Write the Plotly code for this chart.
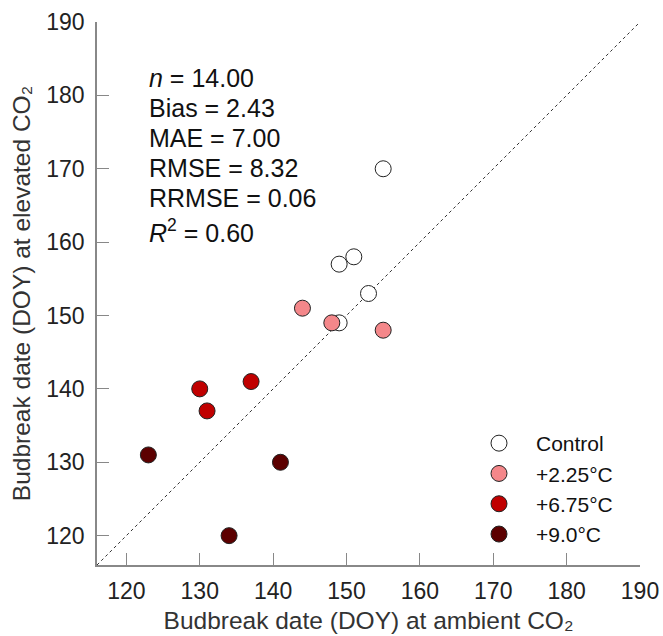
import plotly.graph_objects as go

groups = ["Control", "+2.25°C", "+6.75°C", "+9.0°C"]
ambient = [
    [155, 151, 149, 153, 149],
    [144, 148, 155],
    [130, 137, 131],
    [123, 141, 134],
]
elevated = [
    [170, 158, 157, 153, 149],
    [151, 149, 148],
    [140, 141, 137],
    [131, 130, 120],
]
colors = ["#FFFFFF", "#F4878A", "#C00000", "#5C0000"]
stats = ["<i>n</i> = 14.00", "Bias = 2.43", "MAE = 7.00", "RMSE = 8.32",
         "RRMSE = 0.06", "<i>R</i><sup>2</sup> = 0.60"]
ticks = [120, 130, 140, 150, 160, 170, 180, 190]
axis_range = [116, 190]

FONT = "Liberation Sans, Arial, sans-serif"
fig = go.Figure()

fig.add_trace(go.Scatter(x=axis_range, y=axis_range, mode="lines",
                         line=dict(color="#333333", width=1, dash="3px,3px"),
                         showlegend=False, hoverinfo="skip"))

for i, g in enumerate(groups):
    fig.add_trace(go.Scatter(
        x=ambient[i], y=elevated[i], mode="markers", name=g,
        marker=dict(size=16, color=colors[i], line=dict(color="#222222", width=1)),
    ))

W, H = 663, 636
L, R, T, B = 97, 23, 22, 71
pw = W - L - R
ph = H - T - B

line_y = [78, 108, 138, 168, 198, 231]
for s, py in zip(stats, line_y):
    fig.add_annotation(text=s, xref="paper", yref="paper",
                       x=(147 - L) / pw, y=(H - B - py) / ph,
                       xanchor="left", yanchor="middle", showarrow=False,
                       font=dict(size=25, color="#111111", family=FONT))

axis_common = dict(range=axis_range, tickvals=ticks, ticks="inside", ticklen=12,
                   tickcolor="#888888", showline=True, linecolor="#888888",
                   linewidth=1.5, showgrid=False, zeroline=False, mirror=False,
                   automargin=False,
                   tickfont=dict(size=23, color="#222222", family=FONT))

fig.update_layout(
    width=W, height=H,
    margin=dict(l=L, r=R, t=T, b=B),
    paper_bgcolor="white", plot_bgcolor="white",
    font=dict(family=FONT),
    xaxis=dict(**axis_common, ticklabelstandoff=5,
               title=dict(text="Budbreak date (DOY) at ambient CO₂",
                          font=dict(size=24.5, color="#333333", family=FONT), standoff=9)),
    yaxis=dict(**axis_common, ticklabelstandoff=6,
               title=dict(text="Budbreak date (DOY) at elevated CO₂",
                          font=dict(size=24.5, color="#333333", family=FONT), standoff=9)),
    legend=dict(x=(462 - L) / pw, y=(H - B - 423) / ph, xanchor="left", yanchor="top",
                bgcolor="rgba(0,0,0,0)", itemwidth=64, tracegroupgap=0,
                font=dict(size=21, color="#111111", family=FONT)),
)

fig.write_html("out.html", config={"displayModeBar": False})
with open("out.html", "r", encoding="utf-8") as f:
    html = f.read()
html = html.replace("<head>", "<head><style>html,body{margin:0;padding:0;overflow:hidden;}</style>", 1)
with open("out.html", "w", encoding="utf-8") as f:
    f.write(html)
